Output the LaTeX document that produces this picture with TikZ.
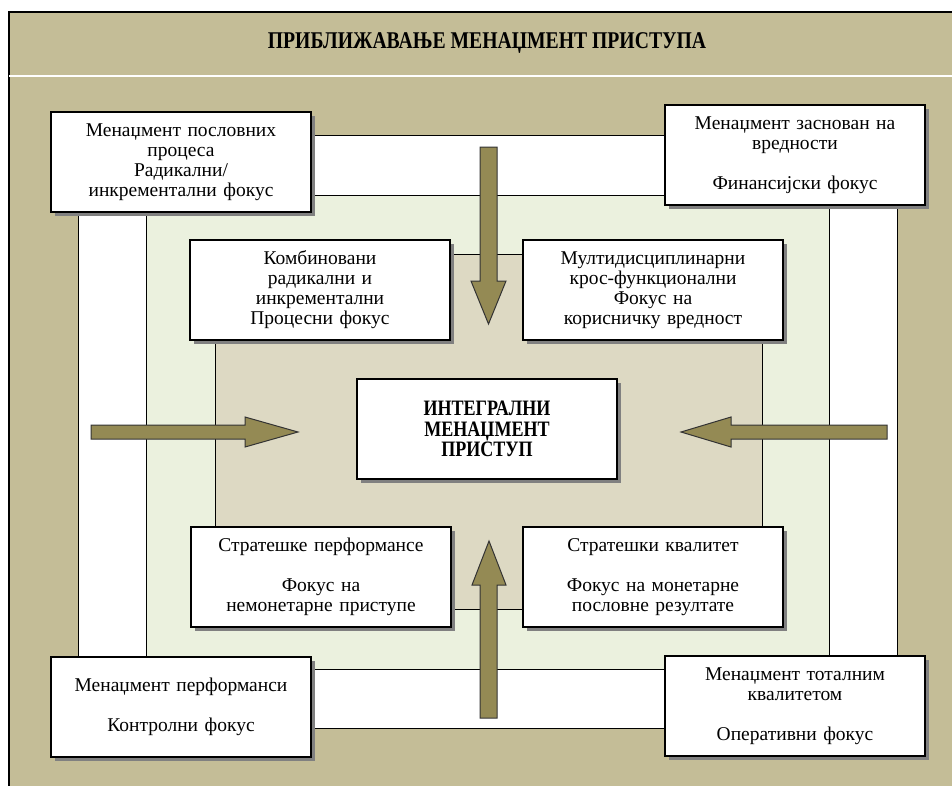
\documentclass[tikz,border=0pt]{standalone}
\usepackage{fontspec}
\setmainfont{Liberation Serif}
\newfontfamily\narrowserif[FakeStretch=0.82]{Liberation Serif}
\usetikzlibrary{shadows}
\definecolor{frametan}{HTML}{C4BD97}
\definecolor{ringgreen}{HTML}{EBF1DE}
\definecolor{corebeige}{HTML}{DDD9C3}
\definecolor{arrowolive}{HTML}{948A54}
\tikzset{card/.style={draw, line width=1.2pt, fill=white, minimum width=260pt, minimum height=100pt,
    inner sep=3pt, text width=252pt, align=center, font=\fontsize{19.5}{20}\selectfont,
    drop shadow={shadow xshift=4pt, shadow yshift=-4pt, fill=black!50, opacity=1}},
  ring/.style={draw, line width=1pt},
  flow/.style={draw=black!80, line width=1pt, fill=arrowolive}}

\begin{document}
\begin{tikzpicture}[x=1pt, y=-1pt]
  \useasboundingbox (0,0) rectangle (952,785);
  \clip (0,0) rectangle (952,785);
  % frame and title
  \fill[frametan] (9,12) rectangle (975,800);
  \draw[line width=1.2pt] (9,800) -- (9,12) -- (975,12);
  \draw[white, line width=1.2pt] (9,76) -- (975,76);
  \node[font=\narrowserif\bfseries\fontsize{24}{26}\selectfont] (title) at (487,43) {ПРИБЛИЖАВАЊЕ МЕНАЏМЕНТ ПРИСТУПА};
  % rings
  \draw[ring, fill=white] (78,135) rectangle (897,728);
  \draw[ring, fill=ringgreen] (146,195) rectangle (829,669);
  \draw[ring, fill=corebeige] (215,254) rectangle (762,609);
  % block arrows
  \draw[flow] (480,147) -- (497,147) -- (497,281) -- (506,281) -- (488.5,324) -- (471,281) -- (480,281) -- cycle;
  \draw[flow] (480,718) -- (497,718) -- (497,585) -- (506,585) -- (489,541) -- (472,585) -- (480,585) -- cycle;
  \draw[flow] (91,425) -- (245,425) -- (245,417) -- (298,432) -- (245,447) -- (245,439) -- (91,439) -- cycle;
  \draw[flow] (887,425) -- (731,425) -- (731,417) -- (681,432) -- (731,447) -- (731,439) -- (887,439) -- cycle;
  % outer cards
  \node[card] (bpm) at (181,162) {Менаџмент пословних\\процеса\\Радикални/\\инкрементални фокус};
  \node[card] (vbm) at (795,155) {Менаџмент заснован на\\вредности\\[20pt]Финансијски фокус};
  \node[card] (pm) at (181,707) {Менаџмент перформанси\\[20pt]Контролни фокус};
  \node[card] (tqm) at (795,706) {Менаџмент тоталним\\квалитетом\\[20pt]Оперативни фокус};
  % inner cards
  \node[card] (comb) at (320,290) {Комбиновани\\радикални и\\инкрементални\\Процесни фокус};
  \node[card] (multi) at (653,290) {Мултидисциплинарни\\крос-функционални\\Фокус на\\корисничку вредност};
  \node[card] (sperf) at (321,577) {Стратешке перформансе\\[20pt]Фокус на\\немонетарне приступе};
  \node[card] (squal) at (653,577) {Стратешки квалитет\\[20pt]Фокус на монетарне\\пословне резултате};
  % centre
  \node[card, font=\narrowserif\bfseries\fontsize{22}{20.5}\selectfont] (core) at (487,429) {ИНТЕГРАЛНИ\\МЕНАЏМЕНТ\\ПРИСТУП};
\end{tikzpicture}
\end{document}
